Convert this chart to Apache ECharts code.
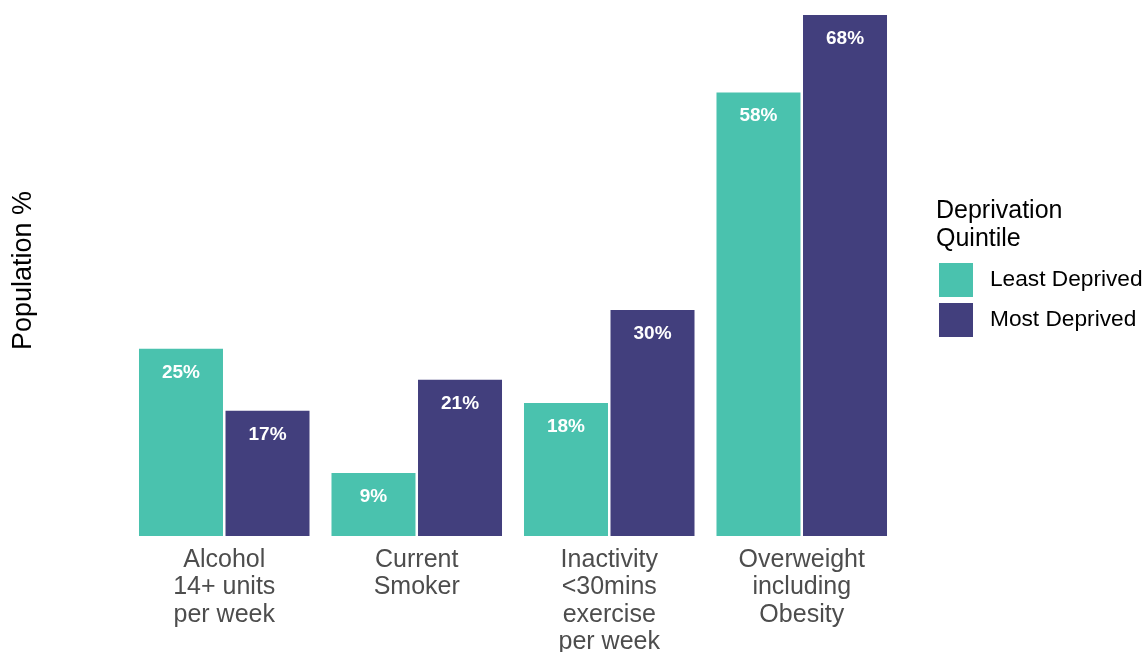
<!DOCTYPE html>
<html><head><meta charset="utf-8">
<script src="https://cdn.jsdelivr.net/npm/echarts@6/dist/echarts.min.js"></script>
<style>html,body{margin:0;padding:0;background:#fff}#c{width:1147px;height:652px}</style>
</head><body><div id="c"></div>
<script>
const categories = ["Alcohol\n14+ units\nper week", "Current\nSmoker", "Inactivity\n<30mins\nexercise\nper week", "Overweight\nincluding\nObesity"];
const leastDeprived = [25, 9, 18, 58];
const mostDeprived = [17, 21, 30, 68];
const seriesNames = ["Least Deprived", "Most Deprived"];
const legendTitle = "Deprivation\nQuintile";
const yTitle = "Population %";

const FONT = 'Liberation Sans, Arial, sans-serif';
const chart = echarts.init(document.getElementById('c'));
const lbl = {show: true, position: 'insideTop', distance: 14, formatter: '{c}%', color: '#fff', fontWeight: 'bold', fontSize: 19, fontFamily: FONT};
chart.setOption({
  animation: false,
  backgroundColor: '#fff',
  title: {text: legendTitle, left: 936, top: 197, padding: 0,
    textStyle: {fontSize: 25, fontWeight: 'normal', color: '#000', lineHeight: 28, fontFamily: FONT}},
  legend: {orient: 'vertical', left: 939, top: 263, padding: 0, itemWidth: 34, itemHeight: 34, itemGap: 6, icon: 'rect',
    data: seriesNames,
    textStyle: {fontSize: 22.7, color: '#000', padding: [0, 0, 0, 12], fontFamily: FONT}},
  grid: {left: 128, width: 770, top: 15, bottom: 116, containLabel: false, outerBoundsMode: 'none'},
  xAxis: {type: 'category', data: categories,
    axisLine: {show: false}, axisTick: {show: false},
    axisLabel: {interval: 0, margin: 10, fontSize: 25, lineHeight: 27.5, color: '#4D4D4D', fontFamily: FONT}},
  yAxis: {type: 'value', min: 0.88, max: 68, name: yTitle, nameLocation: 'middle', nameGap: 91, nameRotate: 90,
    nameTextStyle: {fontSize: 27, color: '#000', fontFamily: FONT, padding: [0, 0, 0, 10]},
    axisLine: {show: false}, axisTick: {show: false}, axisLabel: {show: false}, splitLine: {show: false}},
  series: [
    {name: seriesNames[0], type: 'bar', data: leastDeprived, barWidth: 84, barGap: '3%', clip: true,
      itemStyle: {color: '#4AC2AE'}, label: lbl},
    {name: seriesNames[1], type: 'bar', data: mostDeprived, barWidth: 84, barGap: '3%', clip: true,
      itemStyle: {color: '#423F7D'}, label: lbl}
  ]
});
</script></body></html>
